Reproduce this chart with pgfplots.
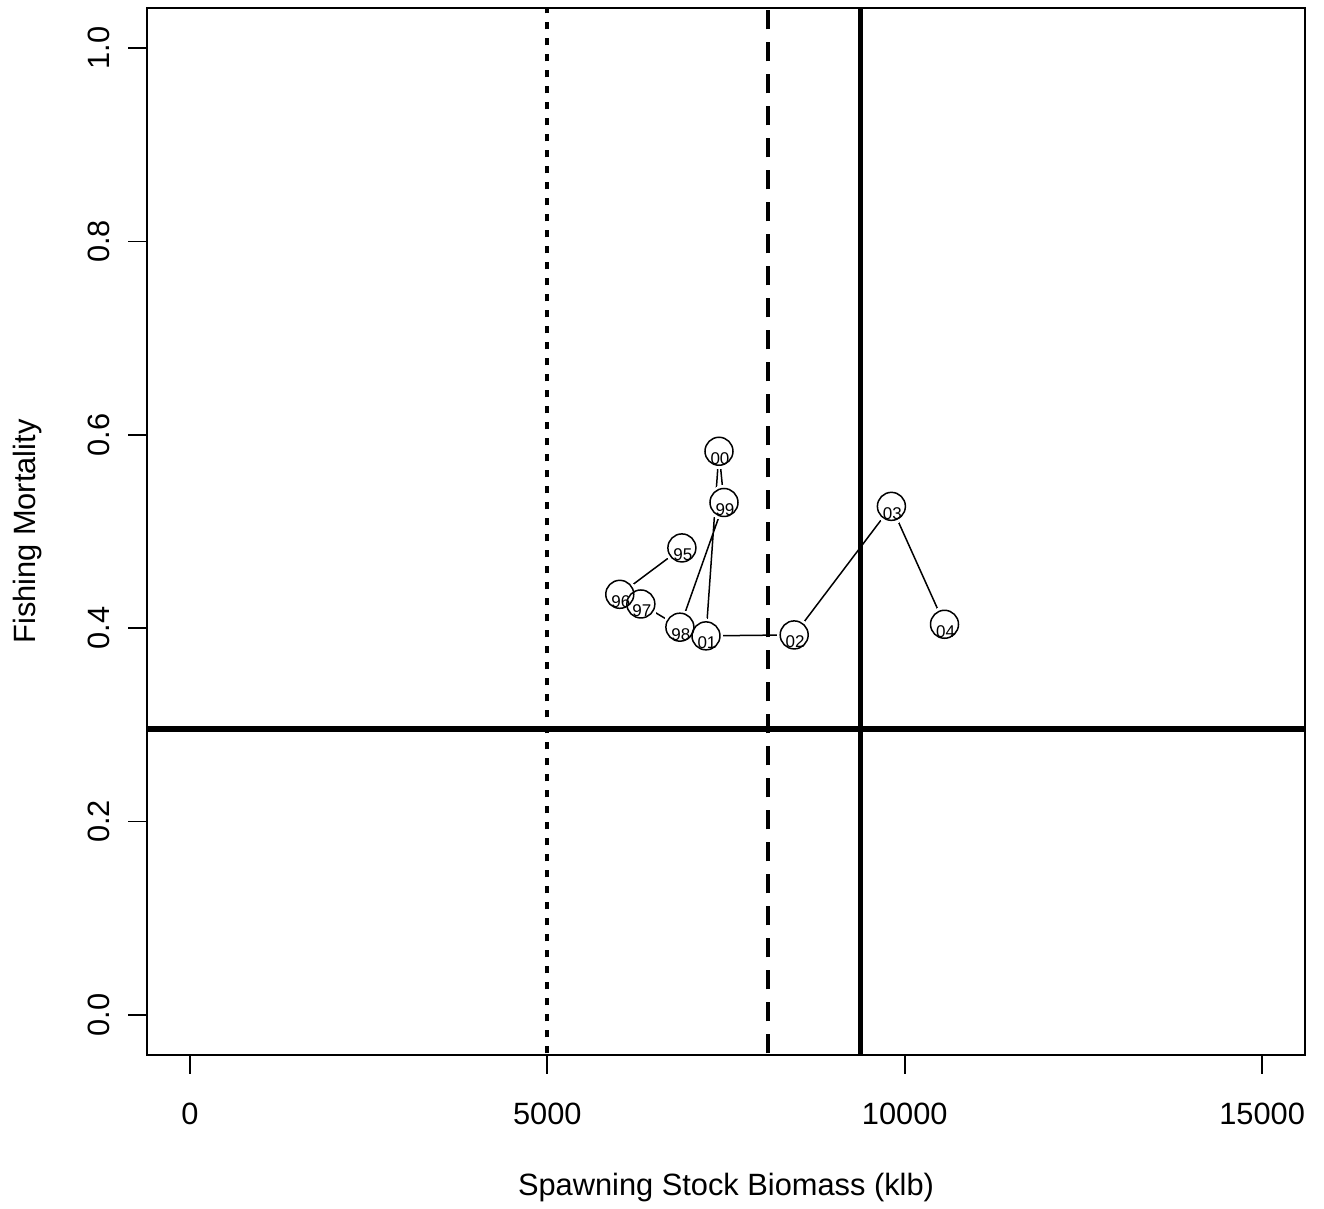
\documentclass[border=0pt]{standalone}
\usepackage{pgfplots}
\pgfplotsset{compat=1.18}
\usepackage{fontspec}
\setmainfont{Liberation Sans}
\begin{document}
\begin{tikzpicture}
\begin{axis}[
  scale only axis,
  width=579pt, height=523.5pt,
  xmin=-600, xmax=15600, ymin=-0.0416, ymax=1.0416,
  axis line style={line width=1pt},
  xtick={0,5000,10000,15000},
  ytick={0,0.2,0.4,0.6,0.8,1.0},
  xtick pos=bottom, ytick pos=left,
  tick align=outside,
  major tick length=9.5pt,
  every tick/.style={black, line width=0.9pt},
  scaled ticks=false,
  /pgf/number format/assume math mode=true,
  xticklabel style={font=\fontsize{15.4}{18}\selectfont, inner sep=0pt, /pgf/number format/1000 sep={}},
  yticklabel style={font=\fontsize{15.4}{18}\selectfont, inner sep=0pt, rotate=90, anchor=south,
    /pgf/number format/.cd, fixed, fixed zerofill, precision=1},
  xticklabel shift=14.5pt,
  yticklabel shift=9pt,
  xlabel={Spawning Stock Biomass (klb)},
  ylabel={Fishing Mortality},
  xlabel style={font=\fontsize{15.4}{18}\selectfont, at={(axis description cs:0.5,-0.13467)}, anchor=base, inner sep=0pt},
  ylabel style={font=\fontsize{15.4}{18}\selectfont, at={(axis description cs:-0.1028,0.5)}, anchor=center, inner sep=0pt},
]
% reference lines
\addplot[black, line width=2pt, dash pattern=on 3.5pt off 4.5pt] coordinates {(5000,-1) (5000,2)};
\addplot[black, line width=2pt, dash pattern=on 9.5pt off 6.5pt] coordinates {(8090,-1) (8090,2)};
\addplot[black, line width=2.8pt] coordinates {(9379,-1) (9379,2)};
\addplot[black, line width=2.8pt] coordinates {(-1000,0.2955) (20000,0.2955)};
% trajectory
\addplot[black, line width=0.75pt, mark=none] table[x=x, y=y] {
x y
6883 0.483
6014 0.435
6309 0.425
6855 0.401
7472 0.530
7402 0.583
7220 0.392
8454 0.393
9814 0.526
10557 0.404
};
\addplot[white, only marks, mark=*, mark size=8.5pt, mark options={fill=white, draw=white, line width=0pt}] table[x=x, y=y] {
x y
6883 0.483
6014 0.435
6309 0.425
6855 0.401
7472 0.530
7402 0.583
7220 0.392
8454 0.393
9814 0.526
10557 0.404
};
\addplot[black, only marks, mark=o, mark size=7pt, mark options={draw=black, line width=0.75pt}] table[x=x, y=y] {
x y
6883 0.483
6014 0.435
6309 0.425
6855 0.401
7472 0.530
7402 0.583
7220 0.392
8454 0.393
9814 0.526
10557 0.404
};
\addplot[draw=none, mark=none, nodes near coords, point meta=explicit symbolic,
  nodes near coords style={anchor=center, yshift=-3.5pt, xshift=0.5pt, inner sep=0pt, font=\fontsize{8.5}{9}\selectfont}]
  table[x=x, y=y, meta=lab] {
x y lab
6883 0.483 95
6014 0.435 96
6309 0.425 97
6855 0.401 98
7472 0.530 99
7402 0.583 00
7220 0.392 01
8454 0.393 02
9814 0.526 03
10557 0.404 04
};
\coordinate (sw) at (rel axis cs:0,0);
\coordinate (ne) at (rel axis cs:1,1);
\end{axis}
\path ([xshift=-73.5pt,yshift=-77pt]sw) rectangle ([xshift=9.5pt,yshift=4pt]ne);
\end{tikzpicture}
\end{document}
